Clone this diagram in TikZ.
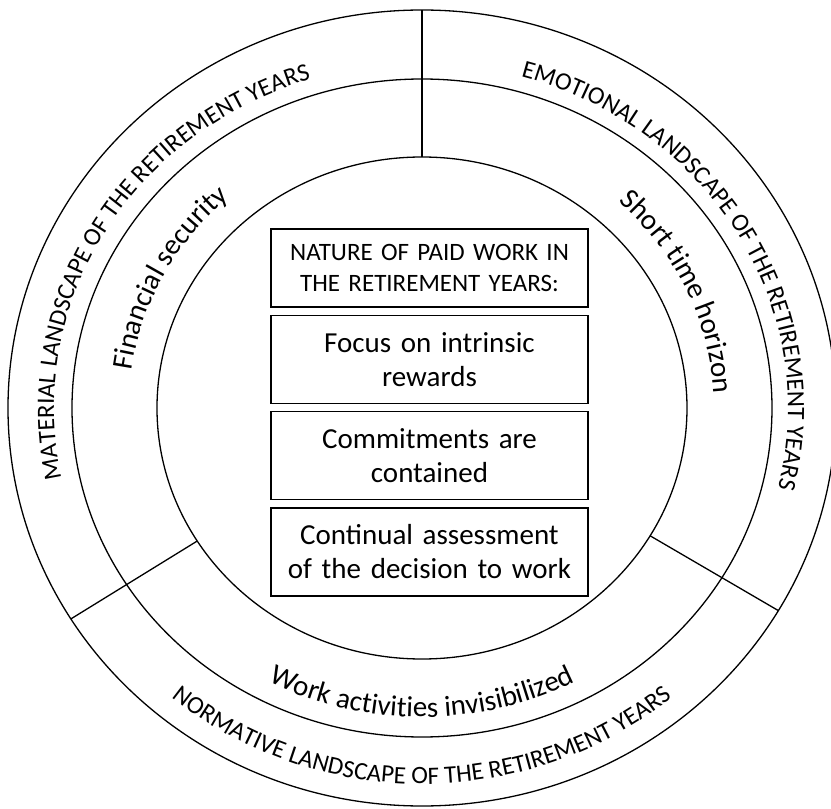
\documentclass[tikz,border=0pt]{standalone}
\usepackage{fontspec}
\setmainfont{Carlito}
\usetikzlibrary{positioning, decorations.text}

\newcommand\capsfont{\fontsize{25}{31}\selectfont}
\newcommand\bodyfont{\fontsize{29}{34}\selectfont}

\begin{document}
\begin{tikzpicture}[x=1pt, y=1pt, line width=1.3pt,
    topic/.style={draw, text width=297pt, inner xsep=10pt, align=center, minimum height=88pt, font=\bodyfont},
    ringtext/.style={decorate, decoration={text along path, text align=center, text={#1}}}]
    \useasboundingbox (-422,-401) rectangle (409,408);
    % the three rings
    \draw (0,0) ellipse [x radius=414pt, y radius=398pt];
    \draw (0,0) ellipse [x radius=350pt, y radius=329pt];
    \draw (0,0) ellipse [x radius=265pt, y radius=251pt];
    % dividers
    \coordinate (top-in) at (90:265pt and 251pt);
    \coordinate (top-out) at (90:414pt and 398pt);
    \coordinate (left-in) at (212:265pt and 251pt);
    \coordinate (left-out) at (212:414pt and 398pt);
    \coordinate (right-in) at (-30.6:265pt and 251pt);
    \coordinate (right-out) at (-30.6:414pt and 398pt);
    \draw (top-in) -- (top-out);
    \draw (left-in) -- (left-out);
    \draw (right-in) -- (right-out);
    % outer band
    \path[ringtext={|\capsfont|MATERIAL LANDSCAPE OF THE RETIREMENT YEARS}] (205:368pt and 345pt) arc[start angle=205, end angle=95, x radius=368pt, y radius=345pt];
    \path[ringtext={|\capsfont|EMOTIONAL LANDSCAPE OF THE RETIREMENT YEARS}] (90:366pt and 344pt) arc[start angle=90, end angle=-30, x radius=366pt, y radius=344pt];
    \path[ringtext={|\capsfont|NORMATIVE LANDSCAPE OF THE RETIREMENT YEARS}] (220:392pt and 376pt) arc[start angle=220, end angle=320, x radius=392pt, y radius=376pt];
    % middle band
    \path[ringtext={|\bodyfont|Financial security}] (190:293pt and 279pt) arc[start angle=190, end angle=114, x radius=293pt, y radius=279pt];
    \path[ringtext={|\bodyfont|Short time horizon}] (70:292pt and 278pt) arc[start angle=70, end angle=-20, x radius=292pt, y radius=278pt];
    \path[ringtext={|\bodyfont|Work activities invisibilized}] (225:330pt and 309pt) arc[start angle=225, end angle=315, x radius=330pt, y radius=309pt];
    % centre column
    \node[topic, minimum height=78pt, font=\capsfont] (nature) at (7.5,140) {NATURE OF PAID WORK IN\\ THE RETIREMENT YEARS:};
    \node[topic, below=7pt of nature] (intrinsic) {Focus on intrinsic\\ rewards};
    \node[topic, below=7pt of intrinsic] (contained) {Commitments are\\ contained};
    \node[topic, below=7pt of contained] (assessment) {Continual assessment\\ of the decision to work};
\end{tikzpicture}
\end{document}
